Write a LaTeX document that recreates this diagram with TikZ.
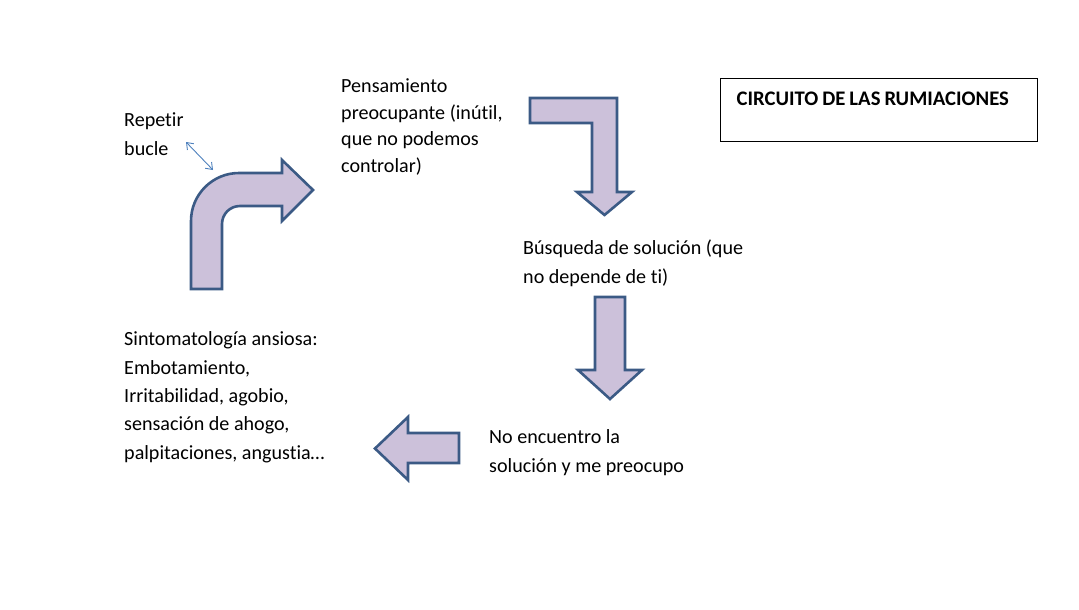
\documentclass[tikz,border=0pt]{standalone}
\usepackage{fontspec}
\setmainfont{Carlito}[Ligatures=NoCommon]
\usepackage{xcolor}
\usepackage{tikz}
\usetikzlibrary{arrows.meta}
\definecolor{lila}{HTML}{CCC1DA}
\definecolor{borde}{HTML}{3B5A85}
\definecolor{azul}{HTML}{4F81BD}
\tikzstyle{flecha}=[draw=borde,fill=lila,line width=2.6pt,line join=miter]
\tikzstyle{texto}=[anchor=base west,inner sep=0pt,align=left,font=\fontsize{20.1}{28.3}\selectfont]

\begin{document}
\begin{tikzpicture}[x=1pt,y=-1pt]
	\useasboundingbox (0,0) rectangle (1079,610);
	\node[draw=black,line width=1.3pt,anchor=north west,inner xsep=16pt,inner ysep=0pt,%
		text height=27pt,text depth=36pt,text width=285pt,align=left,%
		font=\fontsize{20.7}{24}\selectfont\bfseries] (titulo) at (720,78) {\spaceskip=4pt CIRCUITO DE LAS RUMIACIONES};
	% textos del circuito (base = ultima linea)
	\node[texto] (repetir) at (124,155) {Repetir\\bucle};
	\node[texto,font=\fontsize{20.1}{26.5}\selectfont] (pensamiento) at (341,172) {Pensamiento\\preocupante (inútil,\\que no podemos\\controlar)};
	\node[texto] (busqueda) at (523,283) {Búsqueda de solución (que\\no depende de ti)};
	\node[texto] (encuentro) at (489,472) {No encuentro la\\solución y me preocupo};
	\node[texto] (sintomas) at (124,459) {Sintomatología ansiosa:\\Embotamiento,\\Irritabilidad, agobio,\\sensación de ahogo,\\palpitaciones, angustia…};
	% flechas de bloque
	\draw[flecha] (191,289) -- (191,221) .. controls (191,194.5) and (212.5,173) .. (239,173)
		-- (282,173) -- (282,160) -- (313,190) -- (282,221) -- (282,206) -- (240,206)
		.. controls (230,206) and (222,214) .. (222,224) -- (222,289) -- cycle;
	\draw[flecha] (530,98) -- (617,98) -- (617,192) -- (632,192) -- (604.5,215) -- (577,192)
		-- (592,192) -- (592,123) -- (530,123) -- cycle;
	\draw[flecha] (595,297) -- (625,297) -- (625,370) -- (642,370) -- (610,399) -- (578,370)
		-- (595,370) -- cycle;
	\draw[flecha] (459,433) -- (459,463) -- (408,463) -- (408,480) -- (375,448.5) -- (408,417)
		-- (408,433) -- cycle;
	% doble flecha
	\coordinate (bucle) at (186,142);
	\coordinate (curva) at (213,170);
	\draw[azul,line width=0.9pt,{Straight Barb[length=6pt,width=9pt]}-{Straight Barb[length=6pt,width=9pt]}] (bucle) -- (curva);
\end{tikzpicture}
\end{document}
